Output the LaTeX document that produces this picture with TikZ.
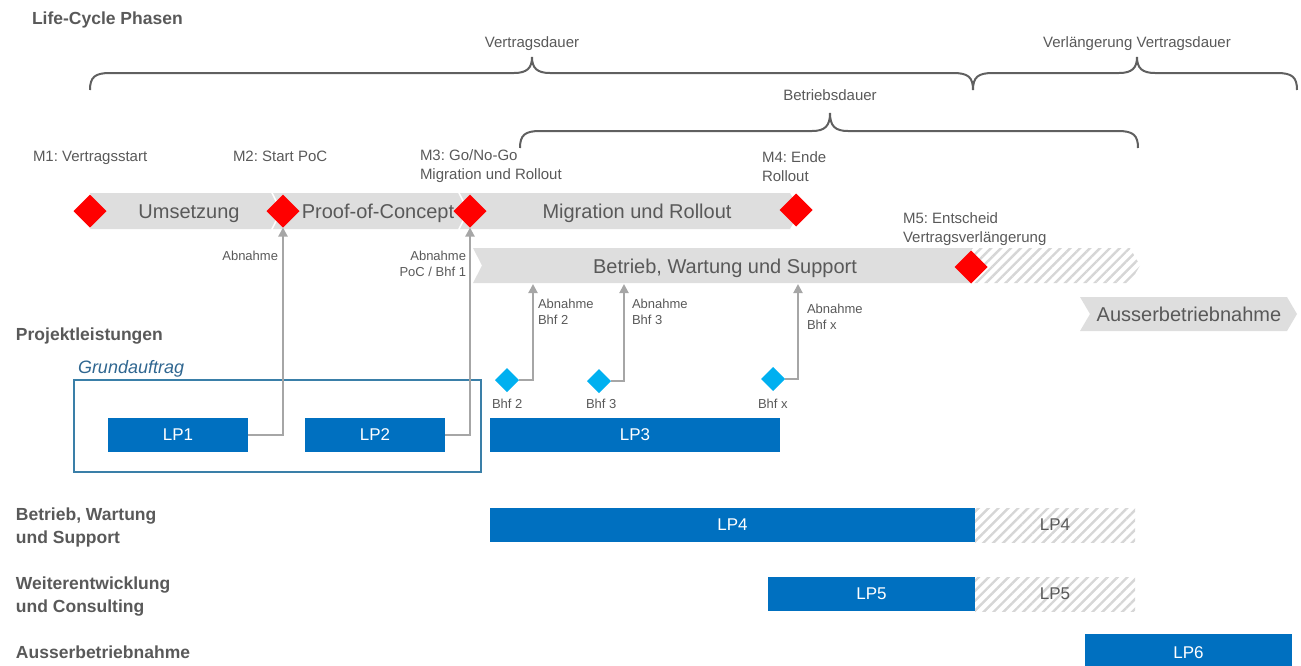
\documentclass[tikz,border=0pt]{standalone}
\usepackage{fontspec}
\setmainfont{Liberation Sans}
\usetikzlibrary{arrows.meta,shapes.geometric,patterns.meta}
\definecolor{txt}{HTML}{595959}
\definecolor{bar}{HTML}{DEDEDE}
\definecolor{lpblue}{HTML}{0070C0}
\definecolor{bhfcyan}{HTML}{00B0F0}
\definecolor{arrowgray}{HTML}{A6A6A6}
\definecolor{bracegray}{HTML}{606060}
\definecolor{gablue}{HTML}{2F6690}
\definecolor{boxblue}{HTML}{3A7FA8}
\definecolor{hatchgray}{HTML}{D6D6D6}
\begin{document}
\frenchspacing
\begin{tikzpicture}[x=1pt,y=-1pt,
  every node/.style={inner sep=0pt, outer sep=0pt, text=txt},
  head/.style={font=\fontsize{17.5}{23}\selectfont\bfseries, anchor=north west, align=left},
  mstxt/.style={font=\fontsize{15}{19}\selectfont, anchor=north west, align=left},
  abntxt/.style={font=\fontsize{13}{16}\selectfont},
  bracetxt/.style={font=\fontsize{15}{19}\selectfont, anchor=north},
  bartxt/.style={font=\fontsize{20}{24}\selectfont, text height=14.3pt, text depth=0pt},
  barfill/.style={fill=bar},
  brace/.style={draw=bracegray, line width=2pt},
  ms/.style={diamond, fill=red, minimum width=33pt, minimum height=33pt},
  bhf/.style={diamond, fill=bhfcyan, minimum width=24pt, minimum height=24pt},
  lp/.style={fill=lpblue, text=white, font=\fontsize{17}{20}\selectfont, minimum height=34pt},
  hatchbox/.style={pattern={Lines[angle=45,distance=7pt,line width=2.4pt]}, pattern color=hatchgray},
  conn/.style={draw=arrowgray, line width=2pt, -{Triangle[width=9pt,length=9pt]}},
]
\useasboundingbox (0,0) rectangle (1301,665);

% braces
\draw[brace] (90,90) .. controls (90,77) and (95,73) .. (110,73) -- (514,73)
  .. controls (527,73) and (532,68) .. (532,57) .. controls (532,68) and (537,73) .. (550,73)
  -- (953,73) .. controls (968,73) and (973,77) .. (973,90);
\draw[brace] (973,90) .. controls (973,77) and (978,73) .. (993,73) -- (1119,73)
  .. controls (1132,73) and (1137,68) .. (1137,57) .. controls (1137,68) and (1142,73) .. (1155,73)
  -- (1277,73) .. controls (1292,73) and (1297,77) .. (1297,90);
\draw[brace] (520,148) .. controls (520,135) and (525,131) .. (540,131) -- (812,131)
  .. controls (825,131) and (830,126) .. (830,113) .. controls (830,126) and (835,131) .. (848,131)
  -- (1118,131) .. controls (1133,131) and (1138,135) .. (1138,148);

\node[bracetxt] (vd) at (532,37) {Vertragsdauer};
\node[bracetxt] (vvd) at (1137,37) {Verlängerung Vertragsdauer};
\node[bracetxt] (bd) at (830,90) {Betriebsdauer};

% phase bars
\path[barfill] (90,193) -- (271,193) -- (280,211) -- (271,229) -- (90,229) -- (99,211) -- cycle;
\path[barfill] (273,193) -- (458,193) -- (467,211) -- (458,229) -- (273,229) -- (282,211) -- cycle;
\path[barfill] (460,193) -- (790,193) -- (800,211) -- (790,229) -- (460,229) -- (469,211) -- cycle;
\path[barfill] (473,248) -- (971,248) -- (971,283) -- (473,283) -- (482,265.5) -- cycle;
\path[hatchbox] (971,248) -- (1130,248) -- (1140,265.5) -- (1130,283) -- (971,283) -- cycle;
\path[barfill] (1080,297) -- (1287,297) -- (1297,314) -- (1287,331) -- (1080,331) -- (1090,314) -- cycle;

\node[bartxt] (p1) at (189,211) {Umsetzung};
\node[bartxt] (p2) at (378,211) {Proof-of-Concept};
\node[bartxt] (p3) at (637,211) {Migration und Rollout};
\node[bartxt] (p4) at (725,266) {Betrieb, Wartung und Support};
\node[bartxt] (p5) at (1189,314) {Ausserbetriebnahme};

% milestone labels
\node[head] (lcp) at (32,12) {Life-Cycle Phasen};
\node[mstxt] (t1) at (33,151) {M1: Vertragsstart};
\node[mstxt] (t2) at (233,151) {M2: Start PoC};
\node[mstxt] (t3) at (420,150) {M3: Go/No-Go\\Migration und Rollout};
\node[mstxt] (t4) at (762,152) {M4: Ende\\Rollout};
\node[mstxt] (t5) at (903,213) {M5: Entscheid\\Vertragsverlängerung};

% project section
\node[head] (pl) at (16,328) {Projektleistungen};
\node[font=\fontsize{18}{22}\selectfont\itshape, text=gablue, anchor=north west] (gat) at (78,360) {Grundauftrag};
\node[draw=boxblue, line width=2pt, minimum width=407pt, minimum height=92pt] (ga) at (277.5,426) {};

\node[lp, minimum width=140pt] (lp1) at (178,435) {LP1};
\node[lp, minimum width=140pt] (lp2) at (375,435) {LP2};
\node[lp, minimum width=290pt] (lp3) at (635,435) {LP3};
\node[lp, minimum width=485pt] (lp4) at (732.5,525) {LP4};
\node[lp, minimum width=207pt] (lp5) at (871.5,594) {LP5};
\node[lp, minimum width=207pt, minimum height=38pt] (lp6) at (1188.5,653) {LP6};
\path[hatchbox] (975,508) rectangle (1135,542);
\path[hatchbox] (975,577) rectangle (1135,611);
\node[font=\fontsize{17}{20}\selectfont] (lp4x) at (1055,525) {LP4};
\node[font=\fontsize{17}{20}\selectfont] (lp5x) at (1055,594) {LP5};

\node[head] (h1) at (16,508) {Betrieb, Wartung\\und Support};
\node[head] (h2) at (16,577) {Weiterentwicklung\\und Consulting};
\node[head] (h3) at (16,646) {Ausserbetriebnahme};

% diamonds
\node[bhf] (bhf2) at (507,380) {};
\node[bhf] (bhf3) at (599,381) {};
\node[bhf] (bhfx) at (773,379) {};
\node[abntxt, anchor=north west] (b2) at (492,399) {Bhf 2};
\node[abntxt, anchor=north west] (b3) at (586,399) {Bhf 3};
\node[abntxt, anchor=north west] (bx) at (758,399) {Bhf x};

\node[ms] (m1) at (90,211) {};
\node[ms] (m2) at (283,211) {};
\node[ms] (m3) at (470,211) {};
\node[ms] (m4) at (796,210) {};
\node[ms] (m5) at (971,267) {};

% connectors
\coordinate (e2) at (533,284);
\coordinate (e3) at (624,284);
\coordinate (ex) at (798,284);
\draw[conn] (lp1.east) -| (m2.south);
\draw[conn] (lp2.east) -| (m3.south);
\draw[conn] (bhf2.east) -| (e2);
\draw[conn] (bhf3.east) -| (e3);
\draw[conn] (bhfx.east) -| (ex);

\node[abntxt, anchor=north east, align=right] (a1) at (278,251) {Abnahme};
\node[abntxt, anchor=north east, align=right] (a2) at (466,251) {Abnahme\\PoC / Bhf 1};
\node[abntxt, anchor=north west, align=left] (a3) at (538,299) {Abnahme\\Bhf 2};
\node[abntxt, anchor=north west, align=left] (a4) at (632,299) {Abnahme\\Bhf 3};
\node[abntxt, anchor=north west, align=left] (a5) at (807,304) {Abnahme\\Bhf x};
\end{tikzpicture}
\end{document}
